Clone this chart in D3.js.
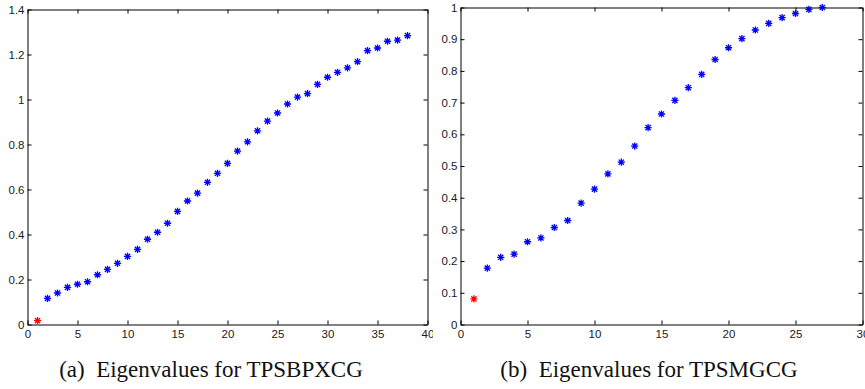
<html>

<head>
  <script src="https://d3js.org/d3.v7.min.js"></script>
  <style>
    body { margin: 0; background: #fff; }
    .axis text { font-family: "Liberation Sans", Arial, sans-serif; font-size: 11.5px; fill: #1a1a1a; }
    .axis line, .axis path { stroke: #000; }
    .caption { font-family: "Liberation Serif", "Times New Roman", serif; font-size: 23px; fill: #111; }
  </style>
</head>

<body>
  <svg id="fig" width="865" height="389"></svg>
  <script>
    // panel (a) TPSBPXCG, 38 eigenvalues
    const valuesA = [0.017, 0.116, 0.140, 0.165, 0.179, 0.190, 0.221, 0.245, 0.272, 0.303,
      0.334, 0.379, 0.410, 0.450, 0.503, 0.549, 0.584, 0.632, 0.672, 0.716,
      0.771, 0.812, 0.861, 0.904, 0.940, 0.980, 1.011, 1.026, 1.067, 1.099,
      1.121, 1.141, 1.168, 1.217, 1.229, 1.259, 1.264, 1.284]
    const xTicksA = [0, 5, 10, 15, 20, 25, 30, 35, 40]
    const yTicksA = [0, 0.2, 0.4, 0.6, 0.8, 1, 1.2, 1.4]

    // panel (b) TPSMGCG, 27 eigenvalues
    const valuesB = [0.081, 0.178, 0.212, 0.222, 0.261, 0.273, 0.306, 0.328, 0.383, 0.427,
      0.475, 0.512, 0.563, 0.621, 0.664, 0.707, 0.747, 0.789, 0.836, 0.873,
      0.902, 0.929, 0.950, 0.968, 0.981, 0.994, 1.000]
    const xTicksB = [0, 5, 10, 15, 20, 25, 30]
    const yTicksB = [0, 0.1, 0.2, 0.3, 0.4, 0.5, 0.6, 0.7, 0.8, 0.9, 1]

    const captions = ["(a)  Eigenvalues for TPSBPXCG", "(b)  Eigenvalues for TPSMGCG"]

    const svg = d3.select('#fig')

    // asterisk marker like matlab '*'
    const s = 3.6, d = 2.6
    const star = `M${-s},0H${s}M0,${-s}V${s}M${-d},${-d}L${d},${d}M${-d},${d}L${d},${-d}`

    function drawPanel(g, values, xDomain, xTicks, yDomain, yTicks, xr, yr, fmt) {
      const x = d3.scaleLinear().domain(xDomain).range(xr)
      const y = d3.scaleLinear().domain(yDomain).range(yr)

      g.append("g").attr("class", "axis")
        .attr("transform", `translate(0,${yr[0]})`)
        .call(d3.axisBottom(x).tickValues(xTicks).tickSize(-4).tickSizeOuter(0).tickPadding(5))
      g.append("g").attr("class", "axis")
        .attr("transform", `translate(0,${yr[1]})`)
        .call(d3.axisTop(x).tickValues(xTicks).tickSize(-4).tickSizeOuter(0).tickFormat(""))
      g.append("g").attr("class", "axis")
        .attr("transform", `translate(${xr[0]},0)`)
        .call(d3.axisLeft(y).tickValues(yTicks).tickSize(-4).tickSizeOuter(0).tickPadding(3).tickFormat(fmt))
      g.append("g").attr("class", "axis")
        .attr("transform", `translate(${xr[1]},0)`)
        .call(d3.axisRight(y).tickValues(yTicks).tickSize(-4).tickSizeOuter(0).tickFormat(""))

      g.selectAll("path.pt").data(values)
        .join("path")
        .attr("class", "pt")
        .attr("d", star)
        .attr("transform", (v, i) => `translate(${x(i + 1)},${y(v)})`)
        .style("fill", "none")
        .style("stroke", (v, i) => i == 0 ? "#ff0000" : "#0000ff")
        .style("stroke-width", 1.3)
    }

    const fmt = v => d3.format("~g")(v)

    const panelA = svg.append("g")
    drawPanel(panelA, valuesA, [0, 40], xTicksA, [0, 1.4], yTicksA, [27.5, 427.5], [324.5, 9.5], fmt)

    const panelB = svg.append("g")
    panelB.append("rect").attr("x", 433).attr("y", 0).attr("width", 432).attr("height", 345).style("fill", "#fff")
    drawPanel(panelB, valuesB, [0, 30], xTicksB, [0, 1], yTicksB, [460.5, 862.5], [324.5, 7.5], fmt)

    svg.selectAll("text.caption").data(captions)
      .join("text")
      .attr("class", "caption")
      .attr("x", (c, i) => i == 0 ? 211 : 649)
      .attr("y", 377)
      .attr("text-anchor", "middle")
      .style("white-space", "pre")
      .text(c => c)
  </script>
</body>

</html>
